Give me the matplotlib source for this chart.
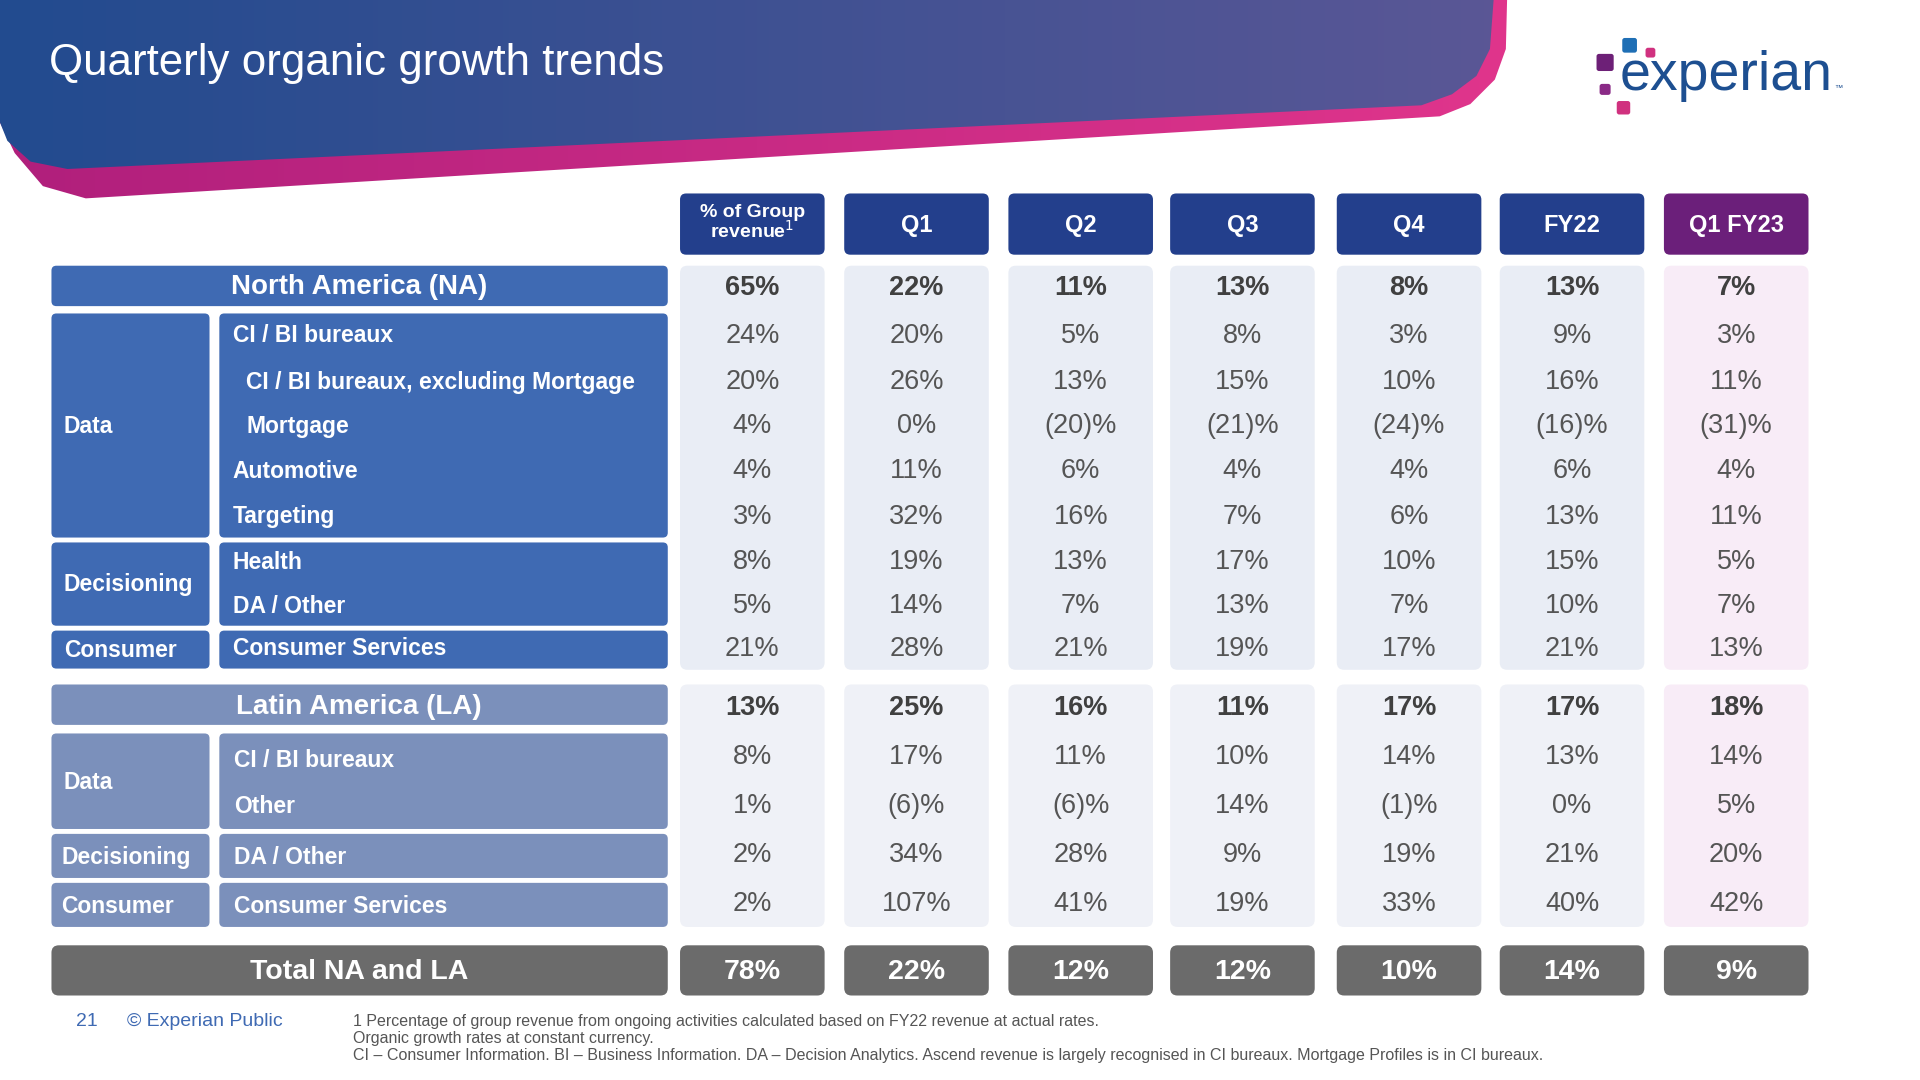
import matplotlib
matplotlib.use("Agg")
import matplotlib.pyplot as plt
import numpy as np
from matplotlib.patches import FancyBboxPatch, Polygon
from matplotlib.colors import LinearSegmentedColormap

plt.rcParams['font.family'] = ['Liberation Sans', 'DejaVu Sans']

columns = ["% of Group\nrevenue¹", "Q1", "Q2", "Q3", "Q4", "FY22", "Q1 FY23"]
na_header = ["65%", "22%", "11%", "13%", "8%", "13%", "7%"]
na_items = ["CI / BI bureaux", "CI / BI bureaux, excluding Mortgage", "Mortgage",
            "Automotive", "Targeting", "Health", "DA / Other", "Consumer Services"]
na_values = [
    ["24%", "20%", "5%", "8%", "3%", "9%", "3%"],
    ["20%", "26%", "13%", "15%", "10%", "16%", "11%"],
    ["4%", "0%", "(20)%", "(21)%", "(24)%", "(16)%", "(31)%"],
    ["4%", "11%", "6%", "4%", "4%", "6%", "4%"],
    ["3%", "32%", "16%", "7%", "6%", "13%", "11%"],
    ["8%", "19%", "13%", "17%", "10%", "15%", "5%"],
    ["5%", "14%", "7%", "13%", "7%", "10%", "7%"],
    ["21%", "28%", "21%", "19%", "17%", "21%", "13%"],
]
la_header = ["13%", "25%", "16%", "11%", "17%", "17%", "18%"]
la_items = ["CI / BI bureaux", "Other", "DA / Other", "Consumer Services"]
la_values = [
    ["8%", "17%", "11%", "10%", "14%", "13%", "14%"],
    ["1%", "(6)%", "(6)%", "14%", "(1)%", "0%", "5%"],
    ["2%", "34%", "28%", "9%", "19%", "21%", "20%"],
    ["2%", "107%", "41%", "19%", "33%", "40%", "42%"],
]
total_values = ["78%", "22%", "12%", "12%", "10%", "14%", "9%"]

W, H = 1567, 882
fig = plt.figure(figsize=(19.2, 10.8), dpi=100)
ax = fig.add_axes([0, 0, 1, 1])

def rbox(x0, y0, x1, y1, color, r=6, z=2):
    ax.add_patch(FancyBboxPatch((x0 + r, y0 + r), x1 - x0 - 2 * r, y1 - y0 - 2 * r,
                                boxstyle=f"round,pad={r}", fc=color, ec='none', zorder=z))

# banner
mag = Polygon([(0, 0), (1230, 0), (1229, 40), (1220, 65), (1200, 85), (1175, 95), (70, 162), (35, 152), (12, 125), (0, 100)],
              closed=True, fc='none', ec='none')
blue = Polygon([(0, 0), (1219, 0), (1216, 40), (1205, 62), (1185, 77), (1160, 86), (55, 138), (25, 132), (6, 115), (0, 100)],
               closed=True, fc='none', ec='none')
ax.add_patch(mag); ax.add_patch(blue)
g = np.linspace(0, 1, 256).reshape(1, -1)
cm_m = LinearSegmentedColormap.from_list('m', ['#b01f7c', '#e0358c'])
cm_b = LinearSegmentedColormap.from_list('b', ['#224b8f', '#5b5796'])
im1 = ax.imshow(g, cmap=cm_m, extent=(0, 1235, 170, 0), aspect='auto', zorder=1)
im1.set_clip_path(mag)
im2 = ax.imshow(g, cmap=cm_b, extent=(0, 1235, 170, 0), aspect='auto', zorder=1.1)
im2.set_clip_path(blue)
ax.set_xlim(0, W); ax.set_ylim(H, 0); ax.axis('off')
ax.text(40, 52, "Quarterly organic growth trends", color='white', fontsize=31.6, va='center', zorder=3)

# logo
ax.text(1322, 62, "experian", color='#1d4f91', fontsize=40, va='center', ha='left', zorder=3)
ax.text(1497, 72, "™", color='#1d4f91', fontsize=6, va='center', zorder=3)
for (x, y, s, c) in [(1330, 37, 12, '#1f6fb5'), (1347, 43, 8, '#d0317f'), (1310, 51, 14, '#6d2077'),
                     (1310, 73, 9, '#8a2a86'), (1325, 88, 11, '#d0317f')]:
    rbox(x - s / 2, y - s / 2, x + s / 2, y + s / 2, c, r=2, z=3)

VAL = 19.5
LAB = 16.5
cx = [614, 748, 882, 1014, 1150, 1283, 1417]
hw = 59
for i, (c, lab) in enumerate(zip(cx, columns)):
    col = '#6b1f7a' if i == 6 else '#233f8c'
    rbox(c - hw, 158, c + hw, 208, col, r=5)
    if i == 0:
        ax.text(c, 182, "% of Group\nrevenue$^{1}$", color='white', fontsize=14, fontweight='bold',
                ha='center', va='center', linespacing=0.9, zorder=3)
    else:
        ax.text(c, 184, lab, color='white', fontsize=17, fontweight='bold', ha='center', va='center', zorder=3)

for i, c in enumerate(cx):
    rbox(c - hw, 217, c + hw, 547, '#f8ecf7' if i == 6 else '#e9edf5', r=6, z=1)
    rbox(c - hw, 559, c + hw, 757, '#f8ecf7' if i == 6 else '#eff1f7', r=6, z=1)
    rbox(c - hw, 772, c + hw, 813, '#6b6b6b', r=6)

NA = '#3f6ab3'
LA = '#7b90bb'
rbox(42, 217, 545, 250, NA, r=4)
ax.text(293, 234, "North America (NA)", color='white', fontsize=20, fontweight='bold', ha='center', va='center', zorder=3)
rbox(42, 256, 171, 439, NA, r=4); rbox(179, 256, 545, 439, NA, r=4)
rbox(42, 443, 171, 511, NA, r=4); rbox(179, 443, 545, 511, NA, r=4)
rbox(42, 515, 171, 546, NA, r=4); rbox(179, 515, 545, 546, NA, r=4)
ax.text(52, 348, "Data", color='white', fontsize=LAB, fontweight='bold', va='center', zorder=3)
ax.text(52, 477, "Decisioning", color='white', fontsize=LAB, fontweight='bold', va='center', zorder=3)
ax.text(52, 531, "Consumer", color='white', fontsize=LAB, fontweight='bold', va='center', zorder=3)
na_y = [274, 312, 348, 385, 422, 459, 495, 530]
na_x = [190, 201, 201, 190, 190, 190, 190, 190]
for y, x, lab in zip(na_y, na_x, na_items):
    ax.text(x, y, lab, color='white', fontsize=LAB, fontweight='bold', va='center', zorder=3)
for i, c in enumerate(cx):
    ax.text(c, 235, na_header[i], color='#404040', fontsize=VAL, fontweight='bold', ha='center', va='center', zorder=3)
    for r, y in enumerate(na_y):
        ax.text(c, y, na_values[r][i], color='#555555', fontsize=VAL, ha='center', va='center', zorder=3)

rbox(42, 559, 545, 592, LA, r=4)
ax.text(293, 577, "Latin America (LA)", color='white', fontsize=20, fontweight='bold', ha='center', va='center', zorder=3)
rbox(42, 599, 171, 677, LA, r=4); rbox(179, 599, 545, 677, LA, r=4)
rbox(42, 681, 171, 717, LA, r=4); rbox(179, 681, 545, 717, LA, r=4)
rbox(42, 721, 171, 757, LA, r=4); rbox(179, 721, 545, 757, LA, r=4)
ax.text(52, 639, "Data", color='white', fontsize=LAB, fontweight='bold', va='center', zorder=3)
ax.text(50, 700, "Decisioning", color='white', fontsize=LAB, fontweight='bold', va='center', zorder=3)
ax.text(50, 740, "Consumer", color='white', fontsize=LAB, fontweight='bold', va='center', zorder=3)
la_y = [618, 658, 698, 738]
la_ly = [621, 659, 700, 740]
for y, lab in zip(la_ly, la_items):
    ax.text(191, y, lab, color='white', fontsize=LAB, fontweight='bold', va='center', zorder=3)
for i, c in enumerate(cx):
    ax.text(c, 578, la_header[i], color='#404040', fontsize=VAL, fontweight='bold', ha='center', va='center', zorder=3)
    for r, y in enumerate(la_y):
        ax.text(c, y, la_values[r][i], color='#555555', fontsize=VAL, ha='center', va='center', zorder=3)

rbox(42, 772, 545, 813, '#6b6b6b', r=6)
ax.text(293, 794, "Total NA and LA", color='white', fontsize=20.5, fontweight='bold', ha='center', va='center', zorder=3)
for i, c in enumerate(cx):
    ax.text(c, 794, total_values[i], color='white', fontsize=20.5, fontweight='bold', ha='center', va='center', zorder=3)

ax.text(62, 834, "21", color='#3f6ab3', fontsize=14, va='center')
ax.text(104, 834, "© Experian Public", color='#3f6ab3', fontsize=14, va='center')
foot = ["1 Percentage of group revenue from ongoing activities calculated based on FY22 revenue at actual rates.",
        "Organic growth rates at constant currency.",
        "CI – Consumer Information. BI – Business Information. DA – Decision Analytics. Ascend revenue is largely recognised in CI bureaux. Mortgage Profiles is in CI bureaux."]
for k, t in enumerate(foot):
    ax.text(288, 834 + 14 * k, t, color='#555555', fontsize=11.5, va='center')

fig.savefig("out.png", dpi=100)
